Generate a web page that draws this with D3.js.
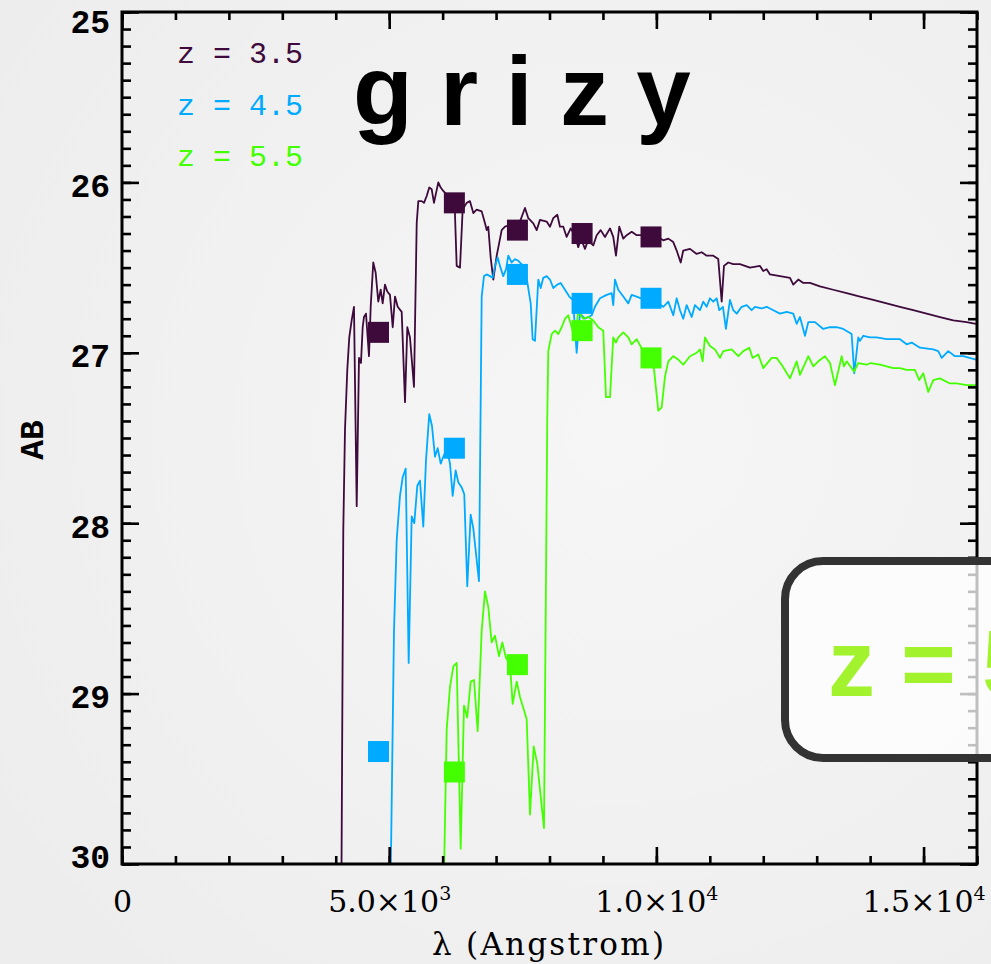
<!DOCTYPE html>
<html>
<head>
<meta charset="utf-8">
<script src="https://cdn.jsdelivr.net/npm/d3@7"></script>
<style>
  body { margin: 0; background: #f0f0f0; }
  svg { display: block; }
</style>
</head>
<body>
<script>
// ---- data ----
// z = 3.5 spectrum (wavelength in Angstrom, AB mag)
const waveZ35 = [4100,4141,4173,4216,4253,4298,4341,4392,4435,4472,4504,4528,4566,4622,4654,4702,4747,4796,4841,4878,4921,4964,5015,5066,5109,5159,5234,5296,5339,5389,5464,5515,5545,5608,5651,5702,5750,5795,5838,5919,5964,6012,6100,6175,6222,6263,6325,6375,6450,6512,6574,6637,6731,6793,6825,6854,6899,6948,7012,7105,7167,7260,7447,7541,7603,7697,7760,7822,7947,8009,8071,8146,8196,8258,8321,8396,8477,8538,8589,8664,8720,8819,8883,8958,9038,9132,9193,9244,9306,9381,9444,9538,9631,9787,9974,10129,10223,10316,10380,10455,10503,10629,10754,10848,10941,11065,11158,11222,11265,11345,11439,11564,11751,11939,12000,12064,12126,12313,12500,12562,12656,12749,12874,13061,13310,13561,13810,14059,14309,14558,14807,15058,15307,15556,15806,15980];
const magZ35 = [30.5,28.04,27.45,27.10,26.91,26.81,26.73,27.90,27.03,27.06,26.85,26.79,26.77,27.02,26.73,26.47,26.53,26.70,26.63,26.71,26.60,26.64,26.66,26.85,26.67,26.73,26.76,27.29,26.85,26.91,27.20,26.24,26.11,26.11,26.12,26.08,26.03,26.04,26.12,26.00,26.03,26.05,26.08,26.07,26.10,26.49,26.50,26.16,26.12,26.11,26.18,26.16,26.17,26.24,26.28,26.26,26.44,26.57,26.43,26.28,26.26,26.25,26.23,26.15,26.21,26.24,26.28,26.22,26.23,26.26,26.21,26.19,26.26,26.26,26.32,26.27,26.31,26.38,26.33,26.39,26.34,26.37,26.31,26.28,26.32,26.27,26.32,26.43,26.26,26.33,26.31,26.29,26.31,26.31,26.31,26.34,26.33,26.35,26.40,26.47,26.40,26.39,26.42,26.41,26.43,26.43,26.45,26.70,26.49,26.47,26.48,26.48,26.50,26.49,26.52,26.51,26.54,26.55,26.56,26.60,26.57,26.59,26.59,26.61,26.63,26.65,26.67,26.69,26.71,26.73,26.75,26.77,26.79,26.81,26.82,26.83];

// z = 4.5 spectrum
const waveZ45 = [5010,5090,5140,5202,5253,5309,5365,5421,5470,5526,5576,5638,5689,5750,5801,5857,5908,5964,6025,6082,6138,6188,6244,6293,6357,6405,6461,6525,6574,6680,6731,6774,6825,6886,6937,6980,7030,7073,7135,7186,7229,7292,7354,7416,7541,7648,7685,7728,7790,7835,7884,7947,8009,8071,8146,8209,8290,8370,8439,8508,8570,8664,8789,8851,8945,9070,9164,9193,9225,9287,9381,9474,9538,9631,9787,9993,10129,10223,10316,10380,10442,10503,10567,10661,10722,10816,10878,10941,11003,11065,11128,11177,11246,11302,11377,11439,11503,11596,11690,11783,11845,11970,12064,12188,12313,12438,12562,12625,12687,12781,12843,12968,13123,13249,13374,13497,13654,13703,13778,13810,13872,13997,14122,14309,14558,14684,14777,14933,15182,15275,15339,15462,15587,15743,15980];
const magZ45 = [30.5,28.63,28.10,27.84,27.73,27.68,28.82,27.96,28.00,27.78,27.75,28.02,27.63,27.36,27.43,27.61,27.56,27.65,27.60,27.57,27.65,27.84,27.69,27.76,27.79,27.83,28.37,27.95,28.03,28.34,26.67,26.55,26.54,26.55,26.56,26.49,26.44,26.49,26.55,26.51,26.43,26.47,26.45,26.46,26.50,26.71,26.92,26.93,26.57,26.62,26.56,26.55,26.57,26.62,26.60,26.59,26.63,26.67,26.69,27.00,26.77,26.80,26.78,26.73,26.68,26.66,26.65,26.72,26.57,26.63,26.67,26.71,26.66,26.67,26.69,26.70,26.73,26.70,26.78,26.68,26.75,26.80,26.72,26.79,26.72,26.75,26.70,26.73,26.68,26.70,26.68,26.75,26.73,26.86,26.69,26.75,26.77,26.73,26.72,26.75,26.73,26.74,26.73,26.75,26.77,26.76,26.77,26.83,26.79,26.90,26.82,26.82,26.86,26.85,26.85,26.86,26.89,27.12,26.91,26.93,26.90,26.91,26.91,26.92,26.92,26.95,26.94,26.97,26.98,26.99,27.03,26.99,27.02,27.02,27.04];

// z = 5.5 spectrum
const waveZ55 = [6000,6076,6138,6200,6263,6338,6400,6461,6525,6587,6656,6731,6793,6854,6918,6980,7055,7117,7186,7260,7311,7386,7448,7573,7635,7704,7771,7897,7958,7977,8041,8103,8164,8228,8290,8351,8415,8477,8538,8632,8726,8819,8913,9006,9057,9132,9193,9244,9287,9381,9474,9538,9631,9787,9937,10036,10099,10161,10223,10316,10410,10503,10629,10754,10816,10866,10909,11003,11097,11190,11252,11409,11533,11627,11739,11802,11907,12000,12158,12251,12345,12500,12625,12687,12843,12937,13030,13155,13249,13342,13468,13511,13561,13698,13778,13935,14010,14184,14433,14558,14684,14839,14919,14994,15088,15182,15307,15494,15619,15806,15980];
const magZ55 = [30.5,29.21,28.96,28.84,28.82,29.91,29.07,29.14,28.93,28.92,29.22,28.63,28.40,28.49,28.70,28.66,28.78,28.70,28.79,28.83,29.06,28.93,29.02,29.15,29.71,29.31,29.41,29.79,27.39,26.99,26.89,26.87,26.89,26.85,26.80,26.78,26.85,26.92,26.76,26.80,26.79,26.81,26.85,26.87,27.26,27.26,26.91,26.94,26.91,26.88,26.91,26.95,26.92,27.01,27.04,27.34,27.32,27.14,27.05,27.02,27.04,27.07,27.02,27.00,26.98,27.05,26.91,26.96,26.98,27.03,26.99,26.98,27.02,26.99,26.97,27.03,27.01,27.09,27.03,27.03,27.07,27.15,27.05,27.13,27.02,27.08,27.05,27.02,27.06,27.19,27.02,27.08,27.05,27.11,27.06,27.07,27.06,27.07,27.09,27.09,27.10,27.10,27.16,27.12,27.23,27.16,27.15,27.18,27.18,27.19,27.19];

// broadband photometry (g r i z y)
const bandWave = [4800, 6220, 7400, 8610, 9900];
const photZ35 = [26.88, 26.12, 26.28, 26.30, 26.32];
const photZ45 = [29.34, 27.56, 26.54, 26.71, 26.68];
const photZ55 = [null, 29.46, 28.83, 26.87, 27.03];

const redshiftLabels = ['z = 3.5', 'z = 4.5', 'z = 5.5'];
const seriesColors = ['#3d0a3b', '#00aaff', '#44ff00'];

const yMajorTicks = [25, 26, 27, 28, 29, 30];
const xMajorTicks = [0, 5000, 10000, 15000];
const xTickMantissa = ['0', '5.0\u00d710', '1.0\u00d710', '1.5\u00d710'];
const xTickExponent = ['', '3', '4', '4'];

// ---- layout ----
const W = 991, H = 964;
const margin = { top: 12, left: 122 };
const width = 855;
const height = 852;

const svg = d3.select('body').append('svg')
  .attr('width', W)
  .attr('height', H);

const defs = svg.append('defs');
const grad = defs.append('radialGradient')
  .attr('id', 'bg')
  .attr('cx', '62%').attr('cy', '45%').attr('r', '75%');
grad.append('stop').attr('offset', '0%').attr('stop-color', '#f6f6f6');
grad.append('stop').attr('offset', '100%').attr('stop-color', '#ededed');

defs.append('clipPath').attr('id', 'plotclip')
  .append('rect').attr('width', width).attr('height', height);

svg.append('rect').attr('width', W).attr('height', H).attr('fill', 'url(#bg)');

const g = svg.append('g')
  .attr('transform', 'translate(' + margin.left + ',' + margin.top + ')');

const x = d3.scaleLinear().domain([0, 16000]).range([0, width]);
const y = d3.scaleLinear().domain([25, 30]).range([0, height]);

// spectra
const valueline = d3.line()
  .x(function(d) { return x(d[0]); })
  .y(function(d) { return y(d[1]); });

const spectra = [
  d3.zip(waveZ35, magZ35),
  d3.zip(waveZ45, magZ45),
  d3.zip(waveZ55, magZ55)
];
const phot = [photZ35, photZ45, photZ55];

const plot = g.append('g').attr('clip-path', 'url(#plotclip)');

spectra.forEach(function(s, i) {
  plot.append('path').datum(s)
    .attr('d', valueline)
    .attr('fill', 'none')
    .attr('stroke', seriesColors[i])
    .attr('stroke-width', 1.8)
    .attr('stroke-linejoin', 'round');
});

// photometry squares
const sq = 21;
phot.forEach(function(p, i) {
  const pts = d3.zip(bandWave, p).filter(d => d[1] != null);
  plot.selectAll('.sq' + i).data(pts).enter().append('rect')
    .attr('x', d => x(d[0]) - sq / 2)
    .attr('y', d => y(d[1]) - sq / 2)
    .attr('width', sq)
    .attr('height', sq)
    .attr('fill', seriesColors[i]);
});

// ---- axes ----
const xMinor = d3.range(0, 16001, 1000);
const yMinor = d3.range(0, 51).map(k => 25 + k / 10);

function styleTicks(sel) {
  sel.select('.domain').remove();
  sel.selectAll('.tick line').attr('stroke', '#000').attr('stroke-width', 2.6);
}

// left
g.append('g').call(d3.axisLeft(y).tickValues(yMinor).tickSize(-9).tickFormat('')).call(styleTicks);
const yAxis = g.append('g')
  .call(d3.axisLeft(y).tickValues(yMajorTicks).tickSize(-17).tickPadding(12).tickFormat(d3.format('d')))
  .call(styleTicks);
yAxis.selectAll('.tick text')
  .attr('font-family', '"Liberation Mono", monospace')
  .attr('font-weight', 'bold')
  .attr('font-size', 33)
  .attr('fill', '#000')
  .attr('dy', function(d) { return d === 25 ? '0.62em' : (d === 30 ? '0.12em' : '0.42em'); });

// right
g.append('g').attr('transform', 'translate(' + width + ',0)')
  .call(d3.axisRight(y).tickValues(yMinor).tickSize(-9).tickFormat('')).call(styleTicks);
g.append('g').attr('transform', 'translate(' + width + ',0)')
  .call(d3.axisRight(y).tickValues(yMajorTicks).tickSize(-17).tickFormat('')).call(styleTicks);

// top
g.append('g').call(d3.axisTop(x).tickValues(xMinor).tickSize(-8).tickFormat('')).call(styleTicks);
g.append('g').call(d3.axisTop(x).tickValues(xMajorTicks).tickSize(-17).tickFormat('')).call(styleTicks);

// bottom
g.append('g').attr('transform', 'translate(0,' + height + ')')
  .call(d3.axisBottom(x).tickValues(xMinor).tickSize(-8).tickFormat('')).call(styleTicks);
const xAxis = g.append('g').attr('transform', 'translate(0,' + height + ')')
  .call(d3.axisBottom(x).tickValues(xMajorTicks).tickSize(-17).tickPadding(27).tickFormat(''))
  .call(styleTicks);
xAxis.selectAll('.tick text').each(function(d, i) {
  const t = d3.select(this)
    .attr('font-family', '"DejaVu Serif", serif')
    .attr('font-size', 30)
    .attr('fill', '#000');
  t.text(null);
  t.append('tspan').text(xTickMantissa[i]);
  if (xTickExponent[i]) {
    t.append('tspan').attr('font-size', 19).attr('dy', -12).text(xTickExponent[i]);
  }
});

// frame
g.append('rect')
  .attr('width', width).attr('height', height)
  .attr('fill', 'none').attr('stroke', '#000').attr('stroke-width', 3);

// axis titles
svg.append('text')
  .attr('x', 548).attr('y', 955)
  .attr('text-anchor', 'middle')
  .attr('font-family', '"DejaVu Serif", serif')
  .attr('font-size', 31)
  .attr('fill', '#000')
  .attr('textLength', 232)
  .attr('lengthAdjust', 'spacing')
  .text('\u03bb (Angstrom)');

svg.append('text')
  .attr('transform', 'translate(43,440) rotate(-90)')
  .attr('text-anchor', 'middle')
  .attr('font-family', '"Liberation Mono", monospace')
  .attr('font-weight', 'bold')
  .attr('font-size', 33)
  .attr('fill', '#000')
  .text('AB');

// legend
redshiftLabels.forEach(function(lbl, i) {
  svg.append('text')
    .attr('x', 177).attr('y', 63 + i * 51.5)
    .attr('font-family', '"Liberation Mono", monospace')
    .attr('font-size', 30)
    .attr('fill', seriesColors[i])
    .attr('xml:space', 'preserve')
    .text(lbl);
});

// band title
svg.append('text')
  .attr('x', 353).attr('y', 125)
  .attr('font-family', '"Liberation Sans", sans-serif')
  .attr('font-weight', 'bold')
  .attr('font-size', 98)
  .attr('fill', '#000')
  .text('g r i z y');

// callout box (runs off the right edge, as in the original slide)
svg.append('rect')
  .attr('x', 785).attr('y', 561)
  .attr('width', 320).attr('height', 197)
  .attr('rx', 38).attr('ry', 38)
  .attr('fill', 'rgba(255,255,255,0.75)')
  .attr('stroke', '#333')
  .attr('stroke-width', 8);

svg.append('text')
  .attr('x', 828).attr('y', 696)
  .attr('font-family', '"Liberation Sans", sans-serif')
  .attr('font-weight', 'bold')
  .attr('font-size', 94)
  .attr('fill', '#a3f22e')
  .text('z = 5.5');
</script>
</body>
</html>
